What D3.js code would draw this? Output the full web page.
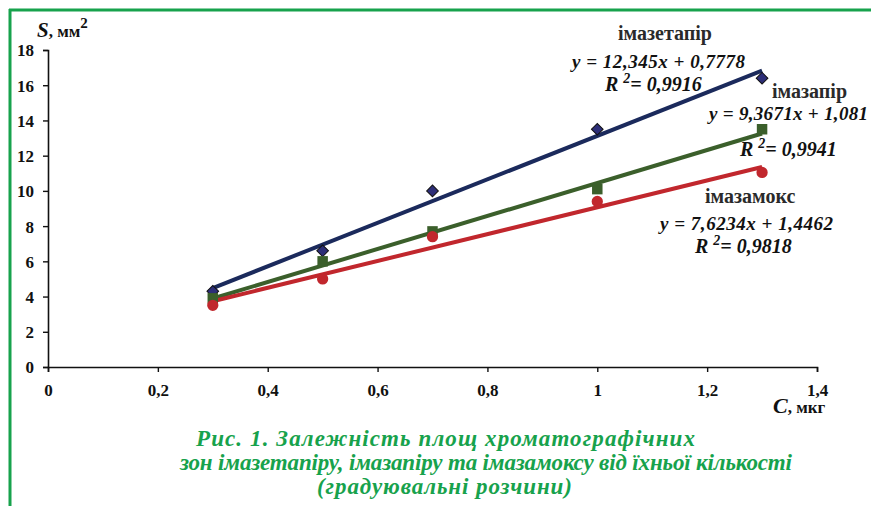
<!DOCTYPE html>
<html><head><meta charset="utf-8">
<script src="https://cdn.jsdelivr.net/npm/d3@7"></script>
<style>body{margin:0;background:#fff}svg{display:block}</style>
</head><body>
<svg id="c" width="871" height="506"></svg>
<script>
const xVals = [0.3, 0.5, 0.7, 1.0, 1.3];
const imazetapir = [4.3, 6.6, 10.0, 13.5, 16.4];
const imazapir = [3.9, 6.0, 7.7, 10.1, 13.5];
const imazamox = [3.5, 5.0, 7.4, 9.4, 11.05];
const seriesNames = ["імазетапір", "імазапір", "імазамокс"];
const slopes = [12.345, 9.3671, 7.6234];
const intercepts = [0.7778, 1.081, 1.4462];
const eqLabels = ["y = 12,345x + 0,7778", "y = 9,3671x + 1,081", "y = 7,6234x + 1,4462"];
const r2Labels = ["0,9916", "0,9941", "0,9818"];
const xTicks = [0, 0.2, 0.4, 0.6, 0.8, 1, 1.2, 1.4];
const yTicks = [0, 2, 4, 6, 8, 10, 12, 14, 16, 18];
const captionLines = ["Рис. 1. Залежність площ хроматографічних",
  "зон імазетапіру, імазапіру та імазамоксу від їхньої кількості",
  "(градуювальні розчини)"];

const svg = d3.select("#c");
const serif = "Liberation Serif";
const green = "#17a24c";
svg.append("rect").attr("width",871).attr("height",506).attr("fill","#fff");
svg.append("line").attr("x1",9).attr("x2",871).attr("y1",10).attr("y2",10).attr("stroke",green).attr("stroke-width",3);
svg.append("line").attr("x1",10).attr("x2",10).attr("y1",9).attr("y2",506).attr("stroke",green).attr("stroke-width",3);

const x = d3.scaleLinear().domain([0,1.4]).range([48,817]);
const y = d3.scaleLinear().domain([0,18]).range([367,50]);

const fmt = d => String(d).replace(".", ",");
const gx = svg.append("g").attr("transform","translate(0,367)")
  .call(d3.axisBottom(x).tickValues(xTicks).tickSize(5).tickPadding(12).tickFormat(fmt));
const gy = svg.append("g").attr("transform","translate(48,0)")
  .call(d3.axisLeft(y).tickValues(yTicks).tickSize(5).tickPadding(9).tickFormat(fmt));
[gx,gy].forEach(g=>{
  g.attr("font-family",serif);
  g.select(".domain").attr("stroke","#111").attr("stroke-width",1.6);
  g.selectAll(".tick line").attr("stroke","#111").attr("stroke-width",1.4);
  g.selectAll("text").attr("font-family",serif).attr("font-weight","bold").attr("font-size",17).attr("fill","#111");
});
gy.selectAll("text").attr("dy","0.35em");

const colors = ["#1b2a5c","#3b5f2b","#c1272d"];
const data = [imazetapir, imazapir, imazamox];

data.forEach((vals,i)=>{
  const x0 = d3.min(xVals), x1 = d3.max(xVals);
  svg.append("line")
    .attr("x1",x(x0)).attr("y1",y(slopes[i]*x0+intercepts[i]))
    .attr("x2",x(x1)).attr("y2",y(slopes[i]*x1+intercepts[i]))
    .attr("stroke",colors[i]).attr("stroke-width",4);
});
const sym = [d3.symbolSquare, d3.symbolSquare, d3.symbolCircle];
const size = [68, 110, 100];
const rot = [45, 0, 0];
const fills = ["#2d2e78","#3b5f2b","#c1272d"];
data.forEach((vals,i)=>{
  svg.append("g").selectAll("path").data(vals).join("path")
    .attr("d", d3.symbol().type(sym[i]).size(size[i]))
    .attr("transform",(d,j)=>`translate(${x(xVals[j])},${y(d)}) rotate(${rot[i]})`)
    .attr("fill",fills[i]).attr("stroke", i===0 ? "#111" : "none").attr("stroke-width",1);
});

const ann = [
  {nx:618, ny:40, ex:572, ey:68, ew:173, rx:605, ry:91},
  {nx:772, ny:98, ex:709, ey:120, ew:159, rx:740, ry:156},
  {nx:705, ny:203, ex:660, ey:230, ew:173, rx:695, ry:253}
];
ann.forEach((a,i)=>{
  svg.append("text").attr("x",a.nx).attr("y",a.ny)
    .attr("font-family",serif).attr("font-weight","bold").attr("font-size",20).attr("fill","#2a2a2a")
    .text(seriesNames[i]);
  svg.append("text").attr("x",a.ex).attr("y",a.ey)
    .attr("font-family",serif).attr("font-weight","bold").attr("font-style","italic").attr("font-size",19).attr("fill","#111")
    .attr("textLength",a.ew).attr("lengthAdjust","spacing")
    .text(eqLabels[i]);
  const t = svg.append("text").attr("x",a.rx).attr("y",a.ry)
    .attr("font-family",serif).attr("font-weight","bold").attr("font-style","italic").attr("font-size",20).attr("fill","#111");
  t.append("tspan").text("R ");
  t.append("tspan").attr("dy",-8).attr("font-size",14).text("2");
  t.append("tspan").attr("dy",8).text("= " + r2Labels[i]);
});

const yt = svg.append("text").attr("x",37).attr("y",37).attr("font-family",serif).attr("font-weight","bold").attr("fill","#111");
yt.append("tspan").attr("font-style","italic").attr("font-size",21).text("S");
yt.append("tspan").attr("font-size",17).text(", мм");
yt.append("tspan").attr("font-size",15).attr("dy",-9).text("2");
const xt = svg.append("text").attr("x",773).attr("y",413).attr("font-family",serif).attr("font-weight","bold").attr("fill","#111");
xt.append("tspan").attr("font-style","italic").attr("font-size",22).text("C");
xt.append("tspan").attr("font-size",17).text(", мкг");

const capX = [196, 180, 317], capY = [446, 470, 494], capW = [499, 612, 255];
captionLines.forEach((s,i)=>{
  svg.append("text").attr("x",capX[i]).attr("y",capY[i])
    .attr("font-family",serif).attr("font-weight","bold").attr("font-style","italic").attr("font-size",23)
    .attr("textLength",capW[i]).attr("lengthAdjust","spacing")
    .attr("fill",green).text(s);
});
</script>
</body></html>
